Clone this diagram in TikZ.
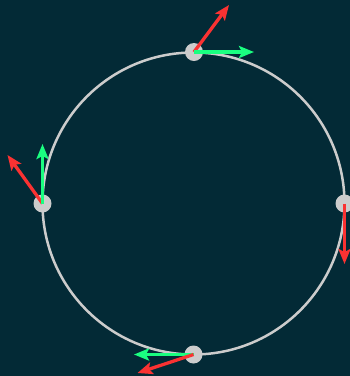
\documentclass[tikz,border=0pt]{standalone}
\usepackage{tikz}
\usetikzlibrary{arrows.meta}

\definecolor{fond}{RGB}{3,42,54}
\definecolor{trace}{RGB}{204,204,204}
\definecolor{vitesse}{RGB}{26,255,128}
\definecolor{accel}{RGB}{250,50,50}

\tikzset{
    point/.style={circle, fill=trace, inner sep=0pt, minimum size=18pt},
    vecteur/.style={line width=3.3pt, -{Stealth[length=15pt,width=12pt,inset=3pt]}}
}

\begin{document}
\begin{tikzpicture}[x=1pt, y=-1pt]
    % Fond
    \fill[fond] (0,0) rectangle (350,376);
    \useasboundingbox (0,0) rectangle (350,376);

    % Trajectoire circulaire
    \coordinate (O) at (193.5,203.5);
    \draw[trace, line width=2.5pt] (O) circle (151);

    % Positions du mobile
    \node[point] (haut) at (194,52) {};
    \node[point] (gauche) at (42.5,203.5) {};
    \node[point] (droite) at (344.5,203.5) {};
    \node[point] (bas) at (193.5,354.5) {};

    % Extremites des vecteurs
    \coordinate (vh) at (254,52);
    \coordinate (ah) at (229,5);
    \coordinate (vg) at (42.5,144);
    \coordinate (ag) at (7.5,155);
    \coordinate (ad) at (344.5,264);
    \coordinate (vb) at (134,354.5);
    \coordinate (ab) at (137.5,373);

    % Vecteurs vitesse (vert) et acceleration (rouge)
    \draw[vecteur, accel] (haut.center) -- (ah);
    \draw[vecteur, vitesse] (haut.center) -- (vh);
    \draw[vecteur, accel] (gauche.center) -- (ag);
    \draw[vecteur, vitesse] (gauche.center) -- (vg);
    \draw[vecteur, accel] (droite.center) -- (ad);
    \draw[vecteur, vitesse] (bas.center) -- (vb);
    \draw[vecteur, accel] (bas.center) -- (ab);
\end{tikzpicture}
\end{document}
